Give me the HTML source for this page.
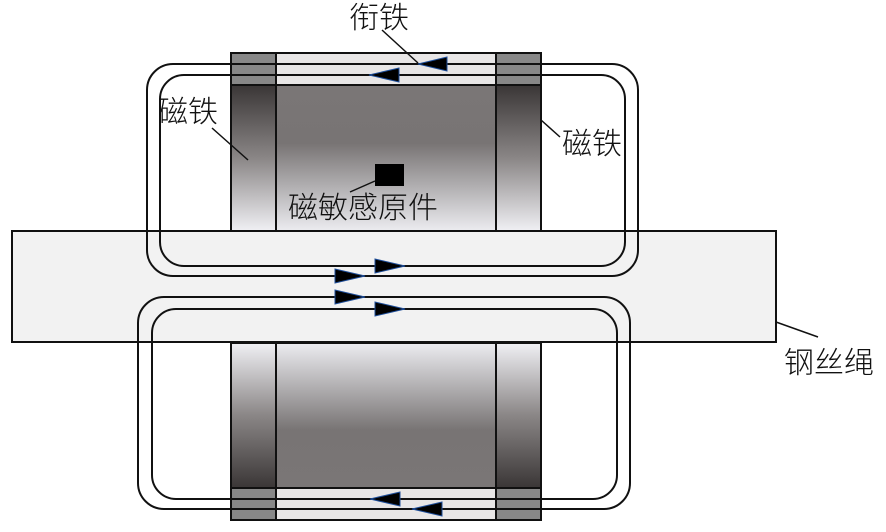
<!DOCTYPE html>
<html><head><meta charset="utf-8"><style>
html,body{margin:0;padding:0;background:#fff;width:886px;height:532px;overflow:hidden}
text{font-family:"Noto Sans CJK SC",sans-serif;font-size:30px;font-weight:300;fill:#111}
</style></head><body>
<svg width="886" height="532" viewBox="0 0 886 532" xmlns="http://www.w3.org/2000/svg">
<defs>
<linearGradient id="sd" x1="0" y1="0" x2="0" y2="1"><stop offset="0" stop-color="#3a3636"/><stop offset="0.5" stop-color="#8a8686"/><stop offset="1" stop-color="#f0f0f4"/></linearGradient>
<linearGradient id="md" x1="0" y1="0" x2="0" y2="1"><stop offset="0" stop-color="#7a7676"/><stop offset="0.4" stop-color="#787474"/><stop offset="1" stop-color="#ececf0"/></linearGradient>
<linearGradient id="su" x1="0" y1="1" x2="0" y2="0"><stop offset="0" stop-color="#3a3636"/><stop offset="0.5" stop-color="#8a8686"/><stop offset="1" stop-color="#f0f0f4"/></linearGradient>
<linearGradient id="mu" x1="0" y1="1" x2="0" y2="0"><stop offset="0" stop-color="#7a7676"/><stop offset="0.4" stop-color="#787474"/><stop offset="1" stop-color="#ececf0"/></linearGradient>
</defs>
<rect x="12" y="231" width="764" height="111" fill="#f2f2f2" stroke="#111" stroke-width="2"/>
<rect x="231" y="53" width="310" height="32" fill="#e8e6e6" stroke="#111" stroke-width="2"/>
<rect x="231" y="53" width="45" height="32" fill="#888" stroke="#111" stroke-width="2"/>
<rect x="496" y="53" width="45" height="32" fill="#888" stroke="#111" stroke-width="2"/>
<rect x="231" y="85" width="45" height="146" fill="url(#sd)" stroke="#111" stroke-width="2"/>
<rect x="276" y="85" width="220" height="146" fill="url(#md)" stroke="#111" stroke-width="2"/>
<rect x="496" y="85" width="45" height="146" fill="url(#sd)" stroke="#111" stroke-width="2"/>
<rect x="231" y="343" width="45" height="145" fill="url(#su)" stroke="#111" stroke-width="2"/>
<rect x="276" y="343" width="220" height="145" fill="url(#mu)" stroke="#111" stroke-width="2"/>
<rect x="496" y="343" width="45" height="145" fill="url(#su)" stroke="#111" stroke-width="2"/>
<rect x="231" y="488" width="310" height="32" fill="#e8e6e6" stroke="#111" stroke-width="2"/>
<rect x="231" y="488" width="45" height="32" fill="#888" stroke="#111" stroke-width="2"/>
<rect x="496" y="488" width="45" height="32" fill="#888" stroke="#111" stroke-width="2"/>
<line x1="12" y1="231" x2="776" y2="231" stroke="#111" stroke-width="2"/>
<line x1="12" y1="342" x2="776" y2="342" stroke="#111" stroke-width="2"/>
<g fill="none" stroke="#111" stroke-width="2">
<rect x="147" y="64" width="491" height="212" rx="26"/>
<rect x="160" y="75" width="465" height="191" rx="24"/>
<rect x="138" y="297" width="492" height="212" rx="26"/>
<rect x="152" y="309" width="465" height="190" rx="24"/>
</g>
<g fill="#000" stroke="#1e4e9a" stroke-width="1">
<polygon points="418,64 447,57 447,71"/>
<polygon points="369,75 399,68 399,82"/>
<polygon points="365,276 335,269 335,283"/>
<polygon points="405,266 375,259 375,273"/>
<polygon points="365,297 335,290 335,304"/>
<polygon points="405,309 375,302 375,316"/>
<polygon points="370,499 400,492 400,506"/>
<polygon points="412,509 442,502 442,516"/>
</g>
<rect x="375" y="164" width="29" height="22" fill="#000"/>
<g stroke="#111" stroke-width="1.5">
<line x1="382" y1="30" x2="418" y2="63"/>
<line x1="212" y1="128" x2="248" y2="160"/>
<line x1="541" y1="120" x2="560" y2="137"/>
<line x1="375" y1="181" x2="350" y2="192"/>
<line x1="776" y1="322" x2="818" y2="337"/>
</g>
<text x="349" y="28">衔铁</text>
<text x="158" y="122">磁铁</text>
<text x="562" y="154">磁铁</text>
<text x="288" y="218">磁敏感原件</text>
<text x="784" y="373">钢丝绳</text>
</svg>
</body></html>
